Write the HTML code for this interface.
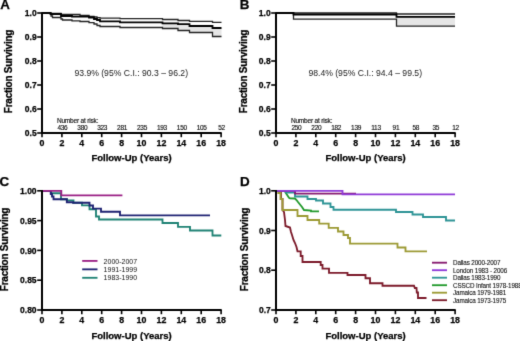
<!DOCTYPE html>
<html><head><meta charset="utf-8">
<style>
html,body{margin:0;padding:0;background:#fff;}
body{width:520px;height:341px;overflow:hidden;}
svg{display:block;font-family:"Liberation Sans", sans-serif;}
</style></head>
<body>
<svg width="520" height="341" viewBox="0 0 520 341">
<defs><filter id="soft" x="0" y="0" width="520" height="341" filterUnits="userSpaceOnUse" color-interpolation-filters="sRGB"><feConvolveMatrix order="3" kernelMatrix="0.011 0.084 0.011 0.084 0.620 0.084 0.011 0.084 0.011" edgeMode="duplicate"/></filter></defs>
<rect width="520" height="341" fill="#fff"/>
<g filter="url(#soft)">
<rect width="520" height="341" fill="#fff"/>
<text x="0.2" y="8.8" font-size="13.4" font-weight="bold" stroke="#000" stroke-width="0.25">A</text>
<polygon points="162.5,22.3 162.5,23.3 178,23.3 178,24.2 189.5,24.2 189.5,26 212.5,26 212.5,28 221.5,28 221.5,36.5 212.5,36.5 212.5,32.5 189.5,32.5 189.5,30.5 178,30.5 178,28.5 162.5,28.5 162.5,27.5" fill="#e6e6e6" stroke="none"/>
<polyline points="42,13 50.5,13 50.5,13.5 61,13.5 61,14.5 80,14.5 80,15.3 89,15.3 89,16.3 94,16.3 94,17 97,17 97,17.6 100,17.6 100,18.2 120,18.2 120,18.7 162.5,18.7 162.5,19.5 178,19.5 178,20.5 189.5,20.5 189.5,21.3 212.5,21.3 212.5,22.3 221.5,22.3" fill="none" stroke="#222" stroke-width="1.3"/>
<polyline points="42,13 51,13 51,16 52.5,16 52.5,17.5 61,17.5 61,19 62.5,19 62.5,20 72,20 72,20.8 80,20.8 80,21.5 89,21.5 89,22.7 94,22.7 94,24 97,24 97,25.5 100,25.5 100,26.5 120,26.5 120,27.5 162.5,27.5 162.5,28.5 178,28.5 178,30.5 189.5,30.5 189.5,32.5 212.5,32.5 212.5,36.5 221.5,36.5" fill="none" stroke="#222" stroke-width="1.3"/>
<polyline points="42,13 50.5,13 50.5,14 61,14 61,16 72,16 72,16.6 89,16.6 89,17.5 94,17.5 94,19 97,19 97,20 100,20 100,21.3 120,21.3 120,22.3 162.5,22.3 162.5,23.3 178,23.3 178,24.2 189.5,24.2 189.5,26 212.5,26 212.5,28 221.5,28" fill="none" stroke="#000" stroke-width="1.8"/>
<line x1="42" y1="12.2" x2="42" y2="134" stroke="#000" stroke-width="2"/>
<line x1="37.2" y1="13" x2="42" y2="13" stroke="#000" stroke-width="1.6"/>
<text x="36.7" y="16.2" text-anchor="end" font-size="8.5" font-weight="bold" stroke="#000" stroke-width="0.25">1.0</text>
<line x1="37.2" y1="37" x2="42" y2="37" stroke="#000" stroke-width="1.6"/>
<text x="36.7" y="40.2" text-anchor="end" font-size="8.5" font-weight="bold" stroke="#000" stroke-width="0.25">0.9</text>
<line x1="37.2" y1="61" x2="42" y2="61" stroke="#000" stroke-width="1.6"/>
<text x="36.7" y="64.2" text-anchor="end" font-size="8.5" font-weight="bold" stroke="#000" stroke-width="0.25">0.8</text>
<line x1="37.2" y1="85" x2="42" y2="85" stroke="#000" stroke-width="1.6"/>
<text x="36.7" y="88.2" text-anchor="end" font-size="8.5" font-weight="bold" stroke="#000" stroke-width="0.25">0.7</text>
<line x1="37.2" y1="109" x2="42" y2="109" stroke="#000" stroke-width="1.6"/>
<text x="36.7" y="112.2" text-anchor="end" font-size="8.5" font-weight="bold" stroke="#000" stroke-width="0.25">0.6</text>
<line x1="37.2" y1="133" x2="42" y2="133" stroke="#000" stroke-width="1.6"/>
<text x="36.7" y="136.2" text-anchor="end" font-size="8.5" font-weight="bold" stroke="#000" stroke-width="0.25">0.5</text>
<line x1="41" y1="133" x2="221.7" y2="133" stroke="#000" stroke-width="2"/>
<line x1="42.0" y1="133" x2="42.0" y2="137.2" stroke="#000" stroke-width="1.6"/>
<text x="42.0" y="145.8" text-anchor="middle" font-size="8.8" font-weight="bold" stroke="#000" stroke-width="0.25">0</text>
<line x1="61.9" y1="133" x2="61.9" y2="137.2" stroke="#000" stroke-width="1.6"/>
<text x="61.9" y="145.8" text-anchor="middle" font-size="8.8" font-weight="bold" stroke="#000" stroke-width="0.25">2</text>
<line x1="81.8" y1="133" x2="81.8" y2="137.2" stroke="#000" stroke-width="1.6"/>
<text x="81.8" y="145.8" text-anchor="middle" font-size="8.8" font-weight="bold" stroke="#000" stroke-width="0.25">4</text>
<line x1="101.69999999999999" y1="133" x2="101.69999999999999" y2="137.2" stroke="#000" stroke-width="1.6"/>
<text x="101.69999999999999" y="145.8" text-anchor="middle" font-size="8.8" font-weight="bold" stroke="#000" stroke-width="0.25">6</text>
<line x1="121.6" y1="133" x2="121.6" y2="137.2" stroke="#000" stroke-width="1.6"/>
<text x="121.6" y="145.8" text-anchor="middle" font-size="8.8" font-weight="bold" stroke="#000" stroke-width="0.25">8</text>
<line x1="141.5" y1="133" x2="141.5" y2="137.2" stroke="#000" stroke-width="1.6"/>
<text x="141.5" y="145.8" text-anchor="middle" font-size="8.8" font-weight="bold" stroke="#000" stroke-width="0.25">10</text>
<line x1="161.39999999999998" y1="133" x2="161.39999999999998" y2="137.2" stroke="#000" stroke-width="1.6"/>
<text x="161.39999999999998" y="145.8" text-anchor="middle" font-size="8.8" font-weight="bold" stroke="#000" stroke-width="0.25">12</text>
<line x1="181.29999999999998" y1="133" x2="181.29999999999998" y2="137.2" stroke="#000" stroke-width="1.6"/>
<text x="181.29999999999998" y="145.8" text-anchor="middle" font-size="8.8" font-weight="bold" stroke="#000" stroke-width="0.25">14</text>
<line x1="201.2" y1="133" x2="201.2" y2="137.2" stroke="#000" stroke-width="1.6"/>
<text x="201.2" y="145.8" text-anchor="middle" font-size="8.8" font-weight="bold" stroke="#000" stroke-width="0.25">16</text>
<line x1="221.1" y1="133" x2="221.1" y2="137.2" stroke="#000" stroke-width="1.6"/>
<text x="221.1" y="145.8" text-anchor="middle" font-size="8.8" font-weight="bold" stroke="#000" stroke-width="0.25">18</text>
<text transform="translate(11.6,71.5) rotate(-90)" text-anchor="middle" font-size="10" letter-spacing="-0.25" font-weight="bold" stroke="#000" stroke-width="0.25">Fraction Surviving</text>
<text x="131.55" y="161.2" text-anchor="middle" font-size="9.5" font-weight="bold" stroke="#000" stroke-width="0.25">Follow-Up (Years)</text>
<text x="74.4" y="76.4" font-size="8.63" fill="#1a1a1a">93.9% (95% C.I.: 90.3 – 96.2)</text>
<text x="56.9" y="122.8" font-size="6.5" letter-spacing="-0.18" fill="#111" stroke="#111" stroke-width="0.15">Number at risk:</text>
<text x="62.4" y="129.9" text-anchor="middle" font-size="6.5" letter-spacing="-0.3" fill="#111" stroke="#111" stroke-width="0.15">436</text>
<text x="82.3" y="129.9" text-anchor="middle" font-size="6.5" letter-spacing="-0.3" fill="#111" stroke="#111" stroke-width="0.15">380</text>
<text x="102.19999999999999" y="129.9" text-anchor="middle" font-size="6.5" letter-spacing="-0.3" fill="#111" stroke="#111" stroke-width="0.15">323</text>
<text x="122.1" y="129.9" text-anchor="middle" font-size="6.5" letter-spacing="-0.3" fill="#111" stroke="#111" stroke-width="0.15">281</text>
<text x="142.0" y="129.9" text-anchor="middle" font-size="6.5" letter-spacing="-0.3" fill="#111" stroke="#111" stroke-width="0.15">235</text>
<text x="161.89999999999998" y="129.9" text-anchor="middle" font-size="6.5" letter-spacing="-0.3" fill="#111" stroke="#111" stroke-width="0.15">193</text>
<text x="181.79999999999998" y="129.9" text-anchor="middle" font-size="6.5" letter-spacing="-0.3" fill="#111" stroke="#111" stroke-width="0.15">150</text>
<text x="201.7" y="129.9" text-anchor="middle" font-size="6.5" letter-spacing="-0.3" fill="#111" stroke="#111" stroke-width="0.15">105</text>
<text x="221.6" y="129.9" text-anchor="middle" font-size="6.5" letter-spacing="-0.3" fill="#111" stroke="#111" stroke-width="0.15">52</text>
<text x="239.7" y="8.8" font-size="13.4" font-weight="bold" stroke="#000" stroke-width="0.25">B</text>
<polygon points="396.5,14.5 396.5,16.8 455,16.8 455,26.2 396.5,26.2 396.5,19.2" fill="#e6e6e6" stroke="none"/>
<polyline points="276,13 396.5,13 396.5,14 455,14" fill="none" stroke="#222" stroke-width="1.3"/>
<polyline points="276,13 293.5,13 293.5,19.2 396.5,19.2 396.5,26.2 455,26.2" fill="none" stroke="#222" stroke-width="1.3"/>
<polyline points="276,13 293.5,13 293.5,14.5 396.5,14.5 396.5,16.8 455,16.8" fill="none" stroke="#000" stroke-width="1.8"/>
<line x1="276" y1="12.2" x2="276" y2="134" stroke="#000" stroke-width="2"/>
<line x1="271.2" y1="13" x2="276" y2="13" stroke="#000" stroke-width="1.6"/>
<text x="270.7" y="16.2" text-anchor="end" font-size="8.5" font-weight="bold" stroke="#000" stroke-width="0.25">1.0</text>
<line x1="271.2" y1="37" x2="276" y2="37" stroke="#000" stroke-width="1.6"/>
<text x="270.7" y="40.2" text-anchor="end" font-size="8.5" font-weight="bold" stroke="#000" stroke-width="0.25">0.9</text>
<line x1="271.2" y1="61" x2="276" y2="61" stroke="#000" stroke-width="1.6"/>
<text x="270.7" y="64.2" text-anchor="end" font-size="8.5" font-weight="bold" stroke="#000" stroke-width="0.25">0.8</text>
<line x1="271.2" y1="85" x2="276" y2="85" stroke="#000" stroke-width="1.6"/>
<text x="270.7" y="88.2" text-anchor="end" font-size="8.5" font-weight="bold" stroke="#000" stroke-width="0.25">0.7</text>
<line x1="271.2" y1="109" x2="276" y2="109" stroke="#000" stroke-width="1.6"/>
<text x="270.7" y="112.2" text-anchor="end" font-size="8.5" font-weight="bold" stroke="#000" stroke-width="0.25">0.6</text>
<line x1="271.2" y1="133" x2="276" y2="133" stroke="#000" stroke-width="1.6"/>
<text x="270.7" y="136.2" text-anchor="end" font-size="8.5" font-weight="bold" stroke="#000" stroke-width="0.25">0.5</text>
<line x1="275" y1="133" x2="455.70000000000005" y2="133" stroke="#000" stroke-width="2"/>
<line x1="276.0" y1="133" x2="276.0" y2="137.2" stroke="#000" stroke-width="1.6"/>
<text x="276.0" y="145.8" text-anchor="middle" font-size="8.8" font-weight="bold" stroke="#000" stroke-width="0.25">0</text>
<line x1="295.9" y1="133" x2="295.9" y2="137.2" stroke="#000" stroke-width="1.6"/>
<text x="295.9" y="145.8" text-anchor="middle" font-size="8.8" font-weight="bold" stroke="#000" stroke-width="0.25">2</text>
<line x1="315.8" y1="133" x2="315.8" y2="137.2" stroke="#000" stroke-width="1.6"/>
<text x="315.8" y="145.8" text-anchor="middle" font-size="8.8" font-weight="bold" stroke="#000" stroke-width="0.25">4</text>
<line x1="335.7" y1="133" x2="335.7" y2="137.2" stroke="#000" stroke-width="1.6"/>
<text x="335.7" y="145.8" text-anchor="middle" font-size="8.8" font-weight="bold" stroke="#000" stroke-width="0.25">6</text>
<line x1="355.6" y1="133" x2="355.6" y2="137.2" stroke="#000" stroke-width="1.6"/>
<text x="355.6" y="145.8" text-anchor="middle" font-size="8.8" font-weight="bold" stroke="#000" stroke-width="0.25">8</text>
<line x1="375.5" y1="133" x2="375.5" y2="137.2" stroke="#000" stroke-width="1.6"/>
<text x="375.5" y="145.8" text-anchor="middle" font-size="8.8" font-weight="bold" stroke="#000" stroke-width="0.25">10</text>
<line x1="395.4" y1="133" x2="395.4" y2="137.2" stroke="#000" stroke-width="1.6"/>
<text x="395.4" y="145.8" text-anchor="middle" font-size="8.8" font-weight="bold" stroke="#000" stroke-width="0.25">12</text>
<line x1="415.29999999999995" y1="133" x2="415.29999999999995" y2="137.2" stroke="#000" stroke-width="1.6"/>
<text x="415.29999999999995" y="145.8" text-anchor="middle" font-size="8.8" font-weight="bold" stroke="#000" stroke-width="0.25">14</text>
<line x1="435.2" y1="133" x2="435.2" y2="137.2" stroke="#000" stroke-width="1.6"/>
<text x="435.2" y="145.8" text-anchor="middle" font-size="8.8" font-weight="bold" stroke="#000" stroke-width="0.25">16</text>
<line x1="455.1" y1="133" x2="455.1" y2="137.2" stroke="#000" stroke-width="1.6"/>
<text x="455.1" y="145.8" text-anchor="middle" font-size="8.8" font-weight="bold" stroke="#000" stroke-width="0.25">18</text>
<text transform="translate(246.9,71.5) rotate(-90)" text-anchor="middle" font-size="10" letter-spacing="-0.25" font-weight="bold" stroke="#000" stroke-width="0.25">Fraction Surviving</text>
<text x="365.55" y="161.2" text-anchor="middle" font-size="9.5" font-weight="bold" stroke="#000" stroke-width="0.25">Follow-Up (Years)</text>
<text x="308.4" y="76.4" font-size="8.63" fill="#1a1a1a">98.4% (95% C.I.: 94.4 – 99.5)</text>
<text x="290.9" y="122.8" font-size="6.5" letter-spacing="-0.18" fill="#111" stroke="#111" stroke-width="0.15">Number at risk:</text>
<text x="296.4" y="129.9" text-anchor="middle" font-size="6.5" letter-spacing="-0.3" fill="#111" stroke="#111" stroke-width="0.15">250</text>
<text x="316.3" y="129.9" text-anchor="middle" font-size="6.5" letter-spacing="-0.3" fill="#111" stroke="#111" stroke-width="0.15">220</text>
<text x="336.2" y="129.9" text-anchor="middle" font-size="6.5" letter-spacing="-0.3" fill="#111" stroke="#111" stroke-width="0.15">182</text>
<text x="356.1" y="129.9" text-anchor="middle" font-size="6.5" letter-spacing="-0.3" fill="#111" stroke="#111" stroke-width="0.15">139</text>
<text x="376.0" y="129.9" text-anchor="middle" font-size="6.5" letter-spacing="-0.3" fill="#111" stroke="#111" stroke-width="0.15">113</text>
<text x="395.9" y="129.9" text-anchor="middle" font-size="6.5" letter-spacing="-0.3" fill="#111" stroke="#111" stroke-width="0.15">91</text>
<text x="415.79999999999995" y="129.9" text-anchor="middle" font-size="6.5" letter-spacing="-0.3" fill="#111" stroke="#111" stroke-width="0.15">58</text>
<text x="435.7" y="129.9" text-anchor="middle" font-size="6.5" letter-spacing="-0.3" fill="#111" stroke="#111" stroke-width="0.15">35</text>
<text x="455.6" y="129.9" text-anchor="middle" font-size="6.5" letter-spacing="-0.3" fill="#111" stroke="#111" stroke-width="0.15">12</text>
<text x="-0.6" y="185.60000000000002" font-size="13.4" font-weight="bold" stroke="#000" stroke-width="0.25">C</text>
<polyline points="42,190.8 50.8,190.8 50.8,193.2 61,193.2 61,199.2 67,199.2 67,200.3 73.5,200.3 73.5,202.7 82,202.7 82,205.4 89.5,205.4 89.5,209.2 96,209.2 96,216.5 99,216.5 99,219.5 162.5,219.5 162.5,223 178,223 178,226.8 190,226.8 190,230.5 212.5,230.5 212.5,235.5 221.3,235.5" fill="none" stroke="#1f8274" stroke-width="1.85"/>
<polyline points="42,190.8 50.8,190.8 50.8,194 52,194 52,196.5 53.5,196.5 53.5,199.2 66.8,199.2 66.8,202.2 73,202.2 73,202.7 89.5,202.7 89.5,205.5 93,205.5 93,208.6 101,208.6 101,211.7 120,211.7 120,215.4 210,215.4" fill="none" stroke="#1e2272" stroke-width="1.85"/>
<polyline points="42,190.8 61.3,190.8 61.3,195.4 122.4,195.4" fill="none" stroke="#9a1f84" stroke-width="1.85"/>
<line x1="42" y1="190.0" x2="42" y2="311" stroke="#000" stroke-width="2"/>
<line x1="37.2" y1="190.8" x2="42" y2="190.8" stroke="#000" stroke-width="1.6"/>
<text x="36.6" y="194.0" text-anchor="end" font-size="8.5" font-weight="bold" stroke="#000" stroke-width="0.25">1.00</text>
<line x1="37.2" y1="220.6" x2="42" y2="220.6" stroke="#000" stroke-width="1.6"/>
<text x="36.6" y="223.79999999999998" text-anchor="end" font-size="8.5" font-weight="bold" stroke="#000" stroke-width="0.25">0.95</text>
<line x1="37.2" y1="250.4" x2="42" y2="250.4" stroke="#000" stroke-width="1.6"/>
<text x="36.6" y="253.6" text-anchor="end" font-size="8.5" font-weight="bold" stroke="#000" stroke-width="0.25">0.90</text>
<line x1="37.2" y1="280.2" x2="42" y2="280.2" stroke="#000" stroke-width="1.6"/>
<text x="36.6" y="283.4" text-anchor="end" font-size="8.5" font-weight="bold" stroke="#000" stroke-width="0.25">0.85</text>
<line x1="37.2" y1="310" x2="42" y2="310" stroke="#000" stroke-width="1.6"/>
<text x="36.6" y="313.2" text-anchor="end" font-size="8.5" font-weight="bold" stroke="#000" stroke-width="0.25">0.80</text>
<line x1="41" y1="310" x2="221.7" y2="310" stroke="#000" stroke-width="2"/>
<line x1="42.0" y1="310" x2="42.0" y2="314.2" stroke="#000" stroke-width="1.6"/>
<text x="42.0" y="323.3" text-anchor="middle" font-size="8.8" font-weight="bold" stroke="#000" stroke-width="0.25">0</text>
<line x1="61.9" y1="310" x2="61.9" y2="314.2" stroke="#000" stroke-width="1.6"/>
<text x="61.9" y="323.3" text-anchor="middle" font-size="8.8" font-weight="bold" stroke="#000" stroke-width="0.25">2</text>
<line x1="81.8" y1="310" x2="81.8" y2="314.2" stroke="#000" stroke-width="1.6"/>
<text x="81.8" y="323.3" text-anchor="middle" font-size="8.8" font-weight="bold" stroke="#000" stroke-width="0.25">4</text>
<line x1="101.69999999999999" y1="310" x2="101.69999999999999" y2="314.2" stroke="#000" stroke-width="1.6"/>
<text x="101.69999999999999" y="323.3" text-anchor="middle" font-size="8.8" font-weight="bold" stroke="#000" stroke-width="0.25">6</text>
<line x1="121.6" y1="310" x2="121.6" y2="314.2" stroke="#000" stroke-width="1.6"/>
<text x="121.6" y="323.3" text-anchor="middle" font-size="8.8" font-weight="bold" stroke="#000" stroke-width="0.25">8</text>
<line x1="141.5" y1="310" x2="141.5" y2="314.2" stroke="#000" stroke-width="1.6"/>
<text x="141.5" y="323.3" text-anchor="middle" font-size="8.8" font-weight="bold" stroke="#000" stroke-width="0.25">10</text>
<line x1="161.39999999999998" y1="310" x2="161.39999999999998" y2="314.2" stroke="#000" stroke-width="1.6"/>
<text x="161.39999999999998" y="323.3" text-anchor="middle" font-size="8.8" font-weight="bold" stroke="#000" stroke-width="0.25">12</text>
<line x1="181.29999999999998" y1="310" x2="181.29999999999998" y2="314.2" stroke="#000" stroke-width="1.6"/>
<text x="181.29999999999998" y="323.3" text-anchor="middle" font-size="8.8" font-weight="bold" stroke="#000" stroke-width="0.25">14</text>
<line x1="201.2" y1="310" x2="201.2" y2="314.2" stroke="#000" stroke-width="1.6"/>
<text x="201.2" y="323.3" text-anchor="middle" font-size="8.8" font-weight="bold" stroke="#000" stroke-width="0.25">16</text>
<line x1="221.1" y1="310" x2="221.1" y2="314.2" stroke="#000" stroke-width="1.6"/>
<text x="221.1" y="323.3" text-anchor="middle" font-size="8.8" font-weight="bold" stroke="#000" stroke-width="0.25">18</text>
<text transform="translate(8.3,249.5) rotate(-90)" text-anchor="middle" font-size="10" letter-spacing="-0.25" font-weight="bold" stroke="#000" stroke-width="0.25">Fraction Surviving</text>
<text x="131.55" y="338.5" text-anchor="middle" font-size="9.5" font-weight="bold" stroke="#000" stroke-width="0.25">Follow-Up (Years)</text>
<line x1="82.2" y1="260.9" x2="97.5" y2="260.9" stroke="#9a1f84" stroke-width="1.85"/>
<text x="103.6" y="263.5" font-size="7" fill="#111">2000-2007</text>
<line x1="82.2" y1="269.34999999999997" x2="97.5" y2="269.34999999999997" stroke="#1e2272" stroke-width="1.85"/>
<text x="103.6" y="271.95" font-size="7" fill="#111">1991-1999</text>
<line x1="82.2" y1="277.79999999999995" x2="97.5" y2="277.79999999999995" stroke="#1f8274" stroke-width="1.85"/>
<text x="103.6" y="280.4" font-size="7" fill="#111">1983-1990</text>
<text x="239.9" y="185.8" font-size="13.4" font-weight="bold" stroke="#000" stroke-width="0.25">D</text>
<polyline points="276,190.8 279.5,190.8 279.5,193 281,193 281,199 282.5,199 282.5,210 284,212 285,220 285.5,226 290,227.5 291,232 292,235 293.5,240 295,243 296.5,247 297.5,251.3 300.7,251.3 300.7,256 302.5,256 302.5,262 320.7,262 320.7,265 322.5,265 322.5,268.6 329,268.6 329,272.8 347.5,272.8 347.5,275 365.5,275 365.5,278.2 370,278.2 370,283.2 382.5,283.2 382.5,285.7 414,285.7 414.8,288 416.5,288 416.8,292.5 418,292.5 418,298 426.5,298" fill="none" stroke="#7c1a2a" stroke-width="1.85"/>
<polyline points="276,190.8 278.3,190.8 278.3,193 280.5,193 280.5,199 282.5,199 282.5,210 297.5,210 297.5,216 307.5,216 307.5,220 319.2,220 319.2,223.6 328.7,223.6 328.7,227.8 338,227.8 338,231.5 343.5,231.5 343.5,235 348,235 348,238 350,238 350,243.6 397.5,243.6 397.5,247.5 405.5,247.5 405.5,251.3 427,251.3" fill="none" stroke="#9c9a34" stroke-width="1.85"/>
<polyline points="276,190.8 284.5,190.8 286,193.3 287.5,195.5 289,197.8 290,198.3 295,198.5 296.5,200 298,202 300,204.5 302,207 304,210 311,210.5 311,211.3 319,211.3" fill="none" stroke="#229a2c" stroke-width="1.85"/>
<polyline points="276,190.8 286,190.8 286,192.5 295,192.5 295,196.5 307.5,196.5 307.5,199 316,199 316,200.5 323,200.5 323,203.5 330.5,203.5 330.5,207 333.5,207 333.5,209.7 396,209.7 396,212 412.5,212 412.5,214.5 423,214.5 423,217 446,217 446,220.5 455,220.5" fill="none" stroke="#2e9496" stroke-width="1.85"/>
<polyline points="276,190.8 295,190.8 295,193.6 356,193.6" fill="none" stroke="#861a70" stroke-width="1.85"/>
<polyline points="276,190.8 342.5,190.8 342.5,194.4 455,194.4" fill="none" stroke="#8f3ad8" stroke-width="1.85"/>
<line x1="276" y1="190.0" x2="276" y2="311" stroke="#000" stroke-width="2"/>
<line x1="271.2" y1="190.8" x2="276" y2="190.8" stroke="#000" stroke-width="1.6"/>
<text x="270.8" y="194.0" text-anchor="end" font-size="8.5" font-weight="bold" stroke="#000" stroke-width="0.25">1.0</text>
<line x1="271.2" y1="230.5" x2="276" y2="230.5" stroke="#000" stroke-width="1.6"/>
<text x="270.8" y="233.7" text-anchor="end" font-size="8.5" font-weight="bold" stroke="#000" stroke-width="0.25">0.9</text>
<line x1="271.2" y1="270.2" x2="276" y2="270.2" stroke="#000" stroke-width="1.6"/>
<text x="270.8" y="273.4" text-anchor="end" font-size="8.5" font-weight="bold" stroke="#000" stroke-width="0.25">0.8</text>
<line x1="271.2" y1="310" x2="276" y2="310" stroke="#000" stroke-width="1.6"/>
<text x="270.8" y="313.2" text-anchor="end" font-size="8.5" font-weight="bold" stroke="#000" stroke-width="0.25">0.7</text>
<line x1="275" y1="310" x2="455.70000000000005" y2="310" stroke="#000" stroke-width="2"/>
<line x1="276.0" y1="310" x2="276.0" y2="314.2" stroke="#000" stroke-width="1.6"/>
<text x="276.0" y="323.3" text-anchor="middle" font-size="8.8" font-weight="bold" stroke="#000" stroke-width="0.25">0</text>
<line x1="295.9" y1="310" x2="295.9" y2="314.2" stroke="#000" stroke-width="1.6"/>
<text x="295.9" y="323.3" text-anchor="middle" font-size="8.8" font-weight="bold" stroke="#000" stroke-width="0.25">2</text>
<line x1="315.8" y1="310" x2="315.8" y2="314.2" stroke="#000" stroke-width="1.6"/>
<text x="315.8" y="323.3" text-anchor="middle" font-size="8.8" font-weight="bold" stroke="#000" stroke-width="0.25">4</text>
<line x1="335.7" y1="310" x2="335.7" y2="314.2" stroke="#000" stroke-width="1.6"/>
<text x="335.7" y="323.3" text-anchor="middle" font-size="8.8" font-weight="bold" stroke="#000" stroke-width="0.25">6</text>
<line x1="355.6" y1="310" x2="355.6" y2="314.2" stroke="#000" stroke-width="1.6"/>
<text x="355.6" y="323.3" text-anchor="middle" font-size="8.8" font-weight="bold" stroke="#000" stroke-width="0.25">8</text>
<line x1="375.5" y1="310" x2="375.5" y2="314.2" stroke="#000" stroke-width="1.6"/>
<text x="375.5" y="323.3" text-anchor="middle" font-size="8.8" font-weight="bold" stroke="#000" stroke-width="0.25">10</text>
<line x1="395.4" y1="310" x2="395.4" y2="314.2" stroke="#000" stroke-width="1.6"/>
<text x="395.4" y="323.3" text-anchor="middle" font-size="8.8" font-weight="bold" stroke="#000" stroke-width="0.25">12</text>
<line x1="415.29999999999995" y1="310" x2="415.29999999999995" y2="314.2" stroke="#000" stroke-width="1.6"/>
<text x="415.29999999999995" y="323.3" text-anchor="middle" font-size="8.8" font-weight="bold" stroke="#000" stroke-width="0.25">14</text>
<line x1="435.2" y1="310" x2="435.2" y2="314.2" stroke="#000" stroke-width="1.6"/>
<text x="435.2" y="323.3" text-anchor="middle" font-size="8.8" font-weight="bold" stroke="#000" stroke-width="0.25">16</text>
<line x1="455.1" y1="310" x2="455.1" y2="314.2" stroke="#000" stroke-width="1.6"/>
<text x="455.1" y="323.3" text-anchor="middle" font-size="8.8" font-weight="bold" stroke="#000" stroke-width="0.25">18</text>
<text transform="translate(248.0,249.5) rotate(-90)" text-anchor="middle" font-size="10" letter-spacing="-0.25" font-weight="bold" stroke="#000" stroke-width="0.25">Fraction Surviving</text>
<text x="365.55" y="338.5" text-anchor="middle" font-size="9.5" font-weight="bold" stroke="#000" stroke-width="0.25">Follow-Up (Years)</text>
<line x1="432" y1="262.7" x2="447" y2="262.7" stroke="#861a70" stroke-width="1.85"/>
<text x="453" y="265.0" font-size="6.3" letter-spacing="-0.13" fill="#111" stroke="#111" stroke-width="0.1">Dallas 2000-2007</text>
<line x1="432" y1="270.2" x2="447" y2="270.2" stroke="#8f3ad8" stroke-width="1.85"/>
<text x="453" y="272.5" font-size="6.3" letter-spacing="-0.13" fill="#111" stroke="#111" stroke-width="0.1">London 1983 - 2006</text>
<line x1="432" y1="277.7" x2="447" y2="277.7" stroke="#2e9496" stroke-width="1.85"/>
<text x="453" y="280.0" font-size="6.3" letter-spacing="-0.13" fill="#111" stroke="#111" stroke-width="0.1">Dallas 1983-1990</text>
<line x1="432" y1="285.2" x2="447" y2="285.2" stroke="#229a2c" stroke-width="1.85"/>
<text x="453" y="287.5" font-size="6.3" letter-spacing="-0.13" fill="#111" stroke="#111" stroke-width="0.1">CSSCD Infant 1978-1988</text>
<line x1="432" y1="292.7" x2="447" y2="292.7" stroke="#9c9a34" stroke-width="1.85"/>
<text x="453" y="295.0" font-size="6.3" letter-spacing="-0.13" fill="#111" stroke="#111" stroke-width="0.1">Jamaica 1979-1981</text>
<line x1="432" y1="300.2" x2="447" y2="300.2" stroke="#7c1a2a" stroke-width="1.85"/>
<text x="453" y="302.5" font-size="6.3" letter-spacing="-0.13" fill="#111" stroke="#111" stroke-width="0.1">Jamaica 1973-1975</text>
</g>
</svg>
</body></html>
